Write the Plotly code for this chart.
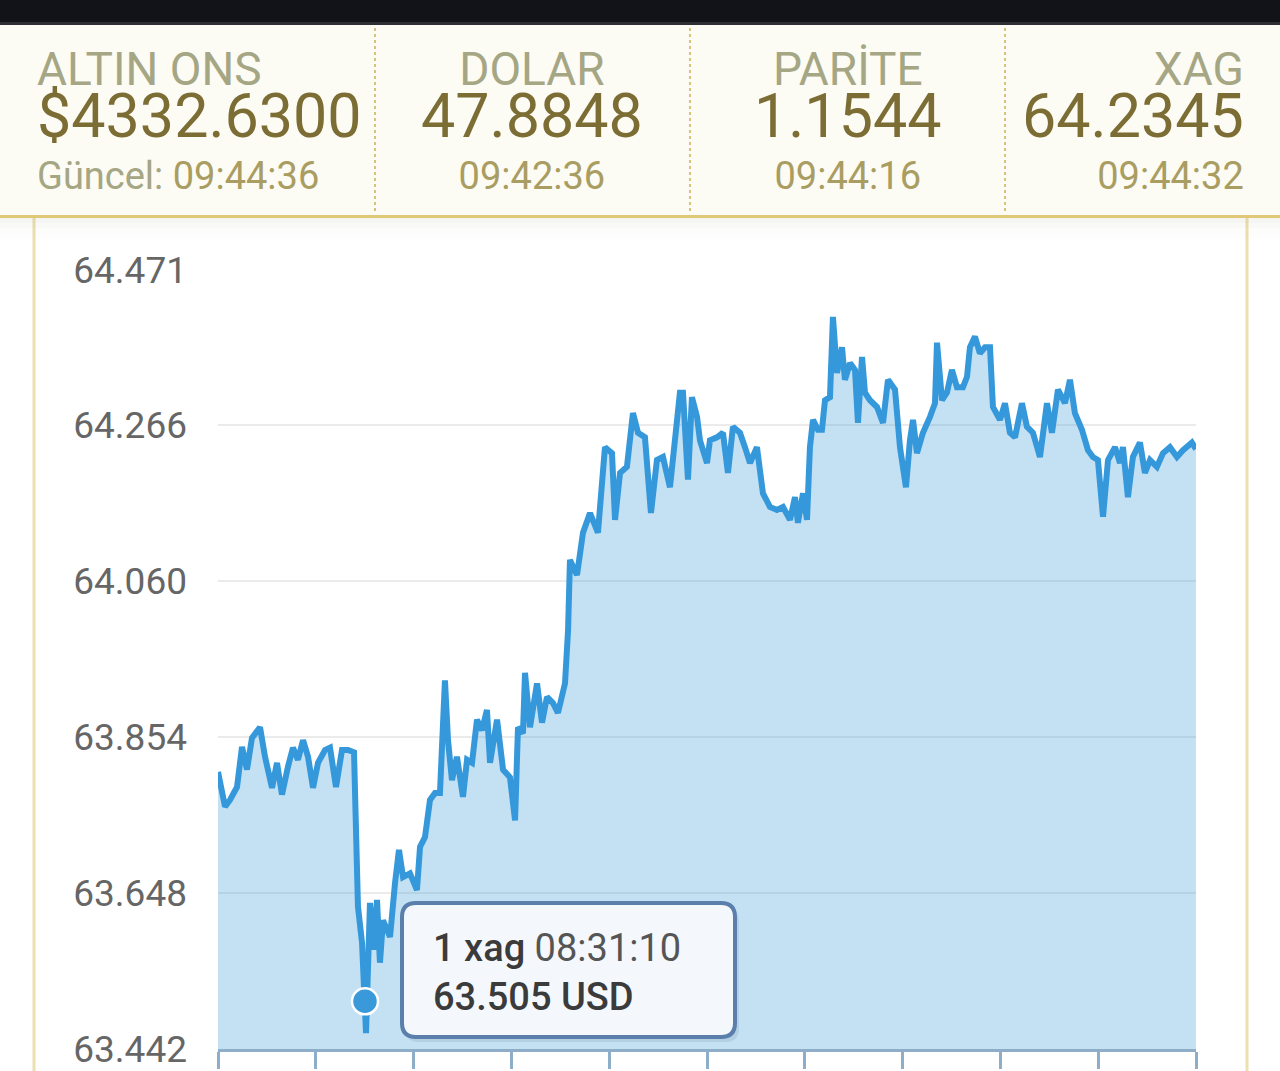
import numpy as np
import plotly.graph_objects as go

# ---------------- data ----------------
minutes = [0.00, 0.62, 1.06, 1.68, 2.12, 2.56, 3.00, 3.71, 4.15, 4.77,
           5.21, 5.65, 6.18, 6.62, 7.06, 7.51, 7.95, 8.39, 8.83, 9.45,
           9.89, 10.42, 10.95, 11.48, 12.01, 12.27, 12.36, 12.72, 12.98, 13.07,
           13.42, 13.77, 14.04, 14.30, 14.57, 15.19, 15.63, 15.98, 16.34, 16.95,
           17.57, 17.84, 18.28, 18.72, 19.16, 19.60, 20.04, 20.31, 20.66, 21.10,
           21.63, 21.99, 22.43, 22.87, 23.31, 23.75, 24.02, 24.64, 25.17, 25.78,
           26.23, 26.49, 26.93, 27.11, 27.55, 28.17, 28.61, 29.05, 29.58, 30.02,
           30.64, 30.91, 31.08, 31.70, 32.23, 32.85, 33.55, 34.17, 34.79, 35.06,
           35.50, 36.11, 36.64, 37.09, 37.70, 38.23, 38.76, 39.29, 39.91, 40.53,
           40.79, 41.06, 41.50, 41.85, 42.30, 42.56, 43.18, 43.44, 44.06, 44.59,
           45.03, 45.47, 46.09, 46.53, 46.98, 47.59, 47.86, 48.12, 48.74, 49.36,
           49.89, 50.51, 50.95, 51.21, 51.66, 52.01, 52.27, 52.54, 52.98, 53.33,
           53.60, 54.04, 54.30, 54.66, 55.10, 55.36, 55.81, 56.25, 56.51, 56.87,
           57.13, 57.57, 58.19, 58.72, 59.16, 59.78, 60.22, 60.75, 61.10, 61.37,
           61.72, 62.25, 62.87, 63.31, 63.49, 63.93, 64.37, 64.81, 65.25, 65.78,
           66.14, 66.40, 66.84, 67.28, 67.73, 68.17, 68.43, 69.05, 69.49, 69.93,
           70.38, 70.99, 71.43, 71.96, 72.58, 73.20, 73.64, 74.17, 74.79, 75.23,
           75.67, 76.29, 76.82, 77.26, 77.70, 78.15, 78.59, 79.21, 79.65, 79.91,
           80.35, 80.79, 81.41, 81.85, 82.30, 82.91, 83.44, 84.06, 84.68, 85.21,
           86.00, 86.36]

prices = [63.808, 63.762, 63.771, 63.788, 63.841, 63.811, 63.853, 63.867, 63.828, 63.787,
          63.820, 63.778, 63.815, 63.840, 63.824, 63.850, 63.828, 63.787, 63.820, 63.837,
          63.840, 63.788, 63.837, 63.837, 63.834, 63.718, 63.630, 63.582, 63.505, 63.463,
          63.635, 63.573, 63.639, 63.556, 63.612, 63.590, 63.661, 63.705, 63.669, 63.674,
          63.652, 63.709, 63.722, 63.771, 63.780, 63.780, 63.929, 63.850, 63.797, 63.828,
          63.775, 63.824, 63.820, 63.877, 63.863, 63.890, 63.820, 63.877, 63.811, 63.801,
          63.744, 63.867, 63.859, 63.939, 63.867, 63.925, 63.873, 63.907, 63.899, 63.886,
          63.925, 63.995, 64.088, 64.068, 64.124, 64.150, 64.124, 64.237, 64.229, 64.141,
          64.203, 64.211, 64.282, 64.256, 64.250, 64.150, 64.220, 64.224, 64.184, 64.264,
          64.309, 64.309, 64.194, 64.303, 64.277, 64.246, 64.216, 64.246, 64.250, 64.256,
          64.203, 64.264, 64.256, 64.237, 64.216, 64.237, 64.211, 64.176, 64.158, 64.154,
          64.158, 64.141, 64.171, 64.137, 64.176, 64.141, 64.237, 64.273, 64.260, 64.260,
          64.299, 64.303, 64.409, 64.335, 64.369, 64.326, 64.348, 64.339, 64.269, 64.356,
          64.309, 64.299, 64.290, 64.269, 64.326, 64.313, 64.237, 64.184, 64.246, 64.273,
          64.229, 64.256, 64.277, 64.295, 64.375, 64.299, 64.309, 64.339, 64.316, 64.316,
          64.330, 64.369, 64.383, 64.361, 64.369, 64.369, 64.290, 64.273, 64.295, 64.256,
          64.250, 64.295, 64.264, 64.256, 64.224, 64.295, 64.256, 64.313, 64.295, 64.326,
          64.282, 64.260, 64.233, 64.224, 64.220, 64.145, 64.220, 64.237, 64.216, 64.237,
          64.171, 64.224, 64.243, 64.203, 64.220, 64.211, 64.229, 64.237, 64.224, 64.233,
          64.243, 64.2345]

y_ticks = [63.442, 63.648, 63.854, 64.060, 64.266, 64.471]
y_tick_labels = ["63.442", "63.648", "63.854", "64.060", "64.266", "64.471"]
n_x_intervals = 10

header_labels = ["ALTIN ONS", "DOLAR", "PARİTE", "XAG"]
header_values = ["$4332.6300", "47.8848", "1.1544", "64.2345"]
header_times = ["09:44:36", "09:42:36", "09:44:16", "09:44:32"]
updated_prefix = "Güncel: "

tooltip_index = 28
tooltip_time = "08:31:10"
tooltip_unit = "xag"
tooltip_currency = "USD"

# ---------------- geometry helpers ----------------
W, H = 1280, 1071


def px(x):
    return x / W


def py(y):
    return 1 - y / H


LINE_COLOR = "#3598db"
FONT = "Roboto"

fig = go.Figure()

fig.add_trace(go.Scatter(
    x=minutes, y=prices, mode="lines",
    line=dict(color=LINE_COLOR, width=6),
    fill="tozeroy", fillcolor="rgba(58,154,217,0.30)",
    hoverinfo="skip", showlegend=False,
))

fig.add_trace(go.Scatter(
    x=[minutes[tooltip_index]], y=[prices[tooltip_index]], mode="markers",
    marker=dict(size=26, color="#3a9ad9", line=dict(color="white", width=2.5)),
    hoverinfo="skip", showlegend=False,
))

shapes = []
# top dark bar
shapes.append(dict(type="rect", xref="paper", yref="paper", x0=0, x1=1, y0=py(0), y1=py(22),
                   fillcolor="#111318", line=dict(width=0), layer="above"))
shapes.append(dict(type="rect", xref="paper", yref="paper", x0=0, x1=1, y0=py(22), y1=py(25),
                   fillcolor="#2e2f34", line=dict(width=0), layer="above"))
# header panel
shapes.append(dict(type="rect", xref="paper", yref="paper", x0=0, x1=1, y0=py(25), y1=py(215),
                   fillcolor="#fcfbf4", line=dict(width=0), layer="above"))
# shadow under header
for (a, b, al) in [(218, 223, 0.07), (223, 228, 0.045), (228, 234, 0.025), (234, 240, 0.01)]:
    shapes.append(dict(type="rect", xref="paper", yref="paper", x0=0, x1=1, y0=py(a), y1=py(b),
                       fillcolor=f"rgba(120,110,60,{al})", line=dict(width=0), layer="above"))
shapes.append(dict(type="rect", xref="paper", yref="paper", x0=0, x1=1, y0=py(215), y1=py(218),
                   fillcolor="#e0c877", line=dict(width=0), layer="above"))
# dotted separators
for sx in [375, 690, 1005]:
    shapes.append(dict(type="line", xref="paper", yref="paper", x0=px(sx), x1=px(sx),
                       y0=py(28), y1=py(213), line=dict(color="#d9c27c", width=2, dash="dot"),
                       layer="above"))
# chart panel side borders
for sx in [34, 1247]:
    shapes.append(dict(type="line", xref="paper", yref="paper", x0=px(sx), x1=px(sx),
                       y0=py(218), y1=py(1071), line=dict(color="#ece0af", width=3), layer="below"))


def rounded(x0, y0, x1, y1, r):
    pts = [
        ("M", px(x0 + r), py(y0)),
        ("L", px(x1 - r), py(y0)),
        ("Q", px(x1), py(y0), px(x1), py(y0 + r)),
        ("L", px(x1), py(y1 - r)),
        ("Q", px(x1), py(y1), px(x1 - r), py(y1)),
        ("L", px(x0 + r), py(y1)),
        ("Q", px(x0), py(y1), px(x0), py(y1 - r)),
        ("L", px(x0), py(y0 + r)),
        ("Q", px(x0), py(y0), px(x0 + r), py(y0)),
    ]
    s = ""
    for p in pts:
        s += p[0] + " " + " ".join(f"{c:.5f}" for c in p[1:]) + " "
    return s + "Z"


# tooltip box (rounded) with soft shadow
shapes.append(dict(type="path", xref="paper", yref="paper", path=rounded(405, 907, 739, 1042, 14),
                   fillcolor="rgba(60,80,110,0.12)", line=dict(width=0), layer="above"))
shapes.append(dict(type="path", xref="paper", yref="paper", path=rounded(402, 903, 735, 1037, 14),
                   fillcolor="#f4f8fc", line=dict(color="#5a7fac", width=4), layer="above"))

annotations = []
cells = [(35, "left"), (532, "center"), (848, "center"), (1246, "right")]
for i, (cx, anchor) in enumerate(cells):
    t = header_times[i]
    if i == 0:
        t = f"<span style='color:#a5a683'>{updated_prefix}</span>{t}"
    text = (f"<span style='font-size:46px;color:#a5a683'>{header_labels[i]}</span><br>"
            f"<span style='font-size:61px;color:#7b6d34'>{header_values[i]}</span><br>"
            f"<span style='font-size:38px'>{t}</span>")
    annotations.append(dict(xref="paper", yref="paper", x=px(cx), y=py(120), text=text,
                            showarrow=False, xanchor=anchor, yanchor="middle", align=anchor,
                            font=dict(family=FONT, size=40, color="#a99d62")))

tip_text = (f"<span style='font-weight:500;color:#3b3b3b'>1 {tooltip_unit}</span> {tooltip_time}<br>"
            f"<span style='font-weight:500;color:#3b3b3b'>{prices[tooltip_index]:.3f} {tooltip_currency}</span>")
annotations.append(dict(xref="paper", yref="paper", x=px(431), y=py(972), text=tip_text,
                        showarrow=False, xanchor="left", yanchor="middle", align="left",
                        font=dict(family=FONT, size=38, color="#555555")))

x_tickvals = list(np.linspace(minutes[0], minutes[-1], n_x_intervals + 1))

fig.update_layout(
    width=W, height=H,
    margin=dict(l=0, r=0, t=0, b=0, autoexpand=False),
    paper_bgcolor="white", plot_bgcolor="rgba(0,0,0,0)",
    shapes=shapes, annotations=annotations,
    showlegend=False,
    xaxis=dict(domain=[px(218), px(1196)], range=[minutes[0], minutes[-1]], automargin=False,
               showgrid=False, zeroline=False, showline=True, linecolor="#8eadc9", linewidth=3,
               ticks="outside", ticklen=17, tickwidth=3, tickcolor="#8eadc9",
               tickvals=x_tickvals, showticklabels=False, fixedrange=True),
    yaxis=dict(domain=[py(1049), py(270)], range=[y_ticks[0], y_ticks[-1]], automargin=False,
               tickvals=y_ticks, ticktext=y_tick_labels,
               showgrid=True, gridcolor="#ebebeb", gridwidth=2, zeroline=False, showline=False,
               ticks="", ticklabelstandoff=30,
               tickfont=dict(family=FONT, size=37, color="#666666"), fixedrange=True),
)

fig.write_html("out.html", config={"displayModeBar": False},
               post_script="document.body.style.margin='0';document.body.style.overflow='hidden';")
